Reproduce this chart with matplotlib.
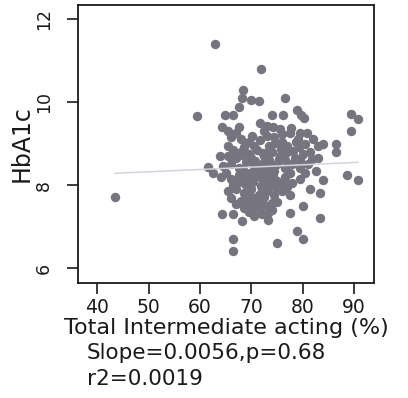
import numpy as np
import matplotlib.pyplot as plt

plt.rcParams['font.family'] = ['DejaVu Sans']

# Total intermediate acting insulin (%) against HbA1c
intermediate_pct = [
    43.4, 62.9, 71.9, 68.3, 68.2, 70.0, 71.5, 76.6, 67.5, 59.4,
    64.9, 66.5, 74.0, 76.2, 78.8, 79.6, 80.3, 89.5, 90.8, 89.5,
    86.5, 86.5, 63.9, 61.6, 62.6, 88.6, 90.8, 84.0, 81.4, 83.4,
    80.1, 64.2, 66.5, 68.1, 73.3, 77.5, 83.4, 78.8, 80.1, 66.5,
    75.0, 66.5,
    64.2, 65.5, 67.5, 67.0, 71.7, 73.0, 74.3, 75.6, 77.5, 79.5, 80.8, 72.5,
    66.0, 68.0, 69.5, 74.5, 76.0, 77.0, 79.0, 80.5, 82.1, 83.0, 84.0, 65.5, 70.5, 73.5,
    66.5, 68.0, 69.5, 71.0, 72.5, 74.0, 75.5, 77.0, 78.5, 80.0, 81.5, 83.0, 67.0, 70.0,
    73.5, 76.5, 79.5, 65.5,
    64.5, 66.0, 67.5, 69.0, 70.5, 72.0, 73.5, 75.0, 76.5, 78.0, 79.5, 81.0, 82.5, 65.0,
    68.5, 71.5, 74.5, 77.5, 80.5,
    64.0, 66.0, 67.5, 69.0, 70.5, 72.0, 73.5, 75.0, 76.5, 78.0, 79.5, 66.5, 69.5, 72.5,
    74.0, 77.0,
    65.5, 67.0, 68.5, 70.0, 71.5, 73.0, 74.5, 76.0, 77.5, 66.0, 69.0, 72.0, 75.0,
    67.0, 68.5, 70.0, 71.5, 73.0, 74.0, 69.5, 72.0, 70.5,
    # dense core
    67.8, 69.2, 70.8, 72.3, 73.8, 75.3, 68.3, 69.8, 71.3, 72.8, 74.3, 67.3, 68.8, 70.3,
    71.8, 73.3, 74.8, 76.2, 68.0, 69.5, 71.0, 72.5, 74.0, 70.2, 71.7, 73.2, 69.0, 70.6,
    72.1, 68.6, 70.1, 71.6, 73.1, 74.6, 76.0, 77.8, 78.6, 75.8, 73.6, 71.2, 69.4, 67.9,
    66.8, 78.2, 79.2, 81.8, 74.8, 76.8,
]
hba1c = [
    7.71, 11.40, 10.80, 10.29, 10.10, 10.05, 10.02, 10.09, 9.89, 9.67,
    9.69, 9.69, 9.69, 9.69, 9.81, 9.70, 9.62, 9.71, 9.60, 9.30,
    9.00, 8.80, 8.70, 8.43, 8.30, 8.25, 8.13, 8.13, 7.90, 7.80,
    7.50, 7.30, 7.30, 7.14, 7.15, 7.32, 7.20, 6.90, 6.70, 6.70,
    6.60, 6.42,
    9.40, 9.30, 9.40, 9.25, 9.50, 9.42, 9.40, 9.35, 9.25, 9.25, 9.25, 9.30,
    9.15, 9.10, 9.05, 9.15, 9.05, 8.95, 9.10, 9.00, 9.10, 8.95, 9.00, 8.95, 8.95, 8.95,
    8.85, 8.80, 8.75, 8.85, 8.70, 8.80, 8.70, 8.80, 8.65, 8.75, 8.80, 8.65, 8.65, 8.65,
    8.60, 8.60, 8.60, 8.70,
    8.45, 8.50, 8.40, 8.55, 8.45, 8.50, 8.40, 8.50, 8.40, 8.50, 8.40, 8.50, 8.35, 8.30,
    8.30, 8.30, 8.35, 8.30, 8.30,
    8.20, 8.15, 8.25, 8.10, 8.20, 8.15, 8.25, 8.10, 8.20, 8.05, 8.15, 8.00, 8.00, 8.00,
    8.00, 7.95,
    7.85, 7.90, 7.80, 7.90, 7.75, 7.85, 7.75, 7.85, 7.75, 7.70, 7.65, 7.65, 7.60,
    7.55, 7.45, 7.55, 7.45, 7.50, 7.40, 7.35, 7.30, 7.25,
    8.72, 8.62, 8.58, 8.78, 8.52, 8.62, 8.36, 8.28, 8.38, 8.32, 8.22, 8.08, 8.02, 8.08,
    7.98, 8.06, 7.92, 8.02, 7.62, 7.78, 7.58, 7.72, 7.58, 7.38, 7.62, 7.32, 7.52, 7.68,
    7.88, 8.92, 9.18, 9.08, 9.18, 9.02, 9.22, 9.38, 9.05, 8.88, 8.88, 8.42, 8.18, 8.12,
    7.98, 8.82, 8.92, 8.62, 7.92, 8.02,
]

# regression result printed under the plot
fit_slope = 0.0056
fit_intercept = 8.04
fit_p = 0.68
fit_r2 = 0.0019

x_ticks = [40, 50, 60, 70, 80, 90]
y_ticks = [6, 8, 10, 12]

fig = plt.figure(figsize=(4.08, 3.98), dpi=100)
ax = fig.add_axes([78 / 408, 1 - 283 / 398, 296 / 408, 278 / 398])

ax.scatter(intermediate_pct, hba1c, s=46, color='#76747e', linewidths=0, zorder=2)

xs = np.array([min(intermediate_pct), max(intermediate_pct)])
ax.plot(xs, fit_intercept + fit_slope * xs, color='#d4d4e0', lw=1.1, zorder=3)

ax.set_xlim(36.2, 93.9)
ax.set_ylim(5.64, 12.34)
ax.set_xticks(x_ticks)
ax.set_yticks(y_ticks)
ax.tick_params(axis='both', direction='out', length=8, width=1.2, colors='#1a1a1a')
ax.tick_params(axis='x', labelsize=13.5, pad=3)
ax.tick_params(axis='y', labelsize=12.5, pad=10)
for lab in ax.get_yticklabels():
    lab.set_rotation(90)
    lab.set_va('center')

for sp in ax.spines.values():
    sp.set_linewidth(1.3)
    sp.set_color('#1a1a1a')

ax.set_ylabel('HbA1c', fontsize=17, color='#1a1a1a', va='center')
ax.yaxis.set_label_coords(-0.19, 0.5)
ax.set_xlabel('Total Intermediate acting (%)', fontsize=16, color='#1a1a1a', va='center')
ax.xaxis.set_label_coords(0.5, -0.163)

fig.text(87 / 408, 1 - 359 / 398, f'Slope={fit_slope},p={fit_p}', fontsize=15.5,
         color='#1a1a1a', va='baseline', ha='left')
fig.text(87 / 408, 1 - 385 / 398, f'r2={fit_r2}', fontsize=15.5,
         color='#1a1a1a', va='baseline', ha='left')

fig.savefig('out.png', dpi=100)
